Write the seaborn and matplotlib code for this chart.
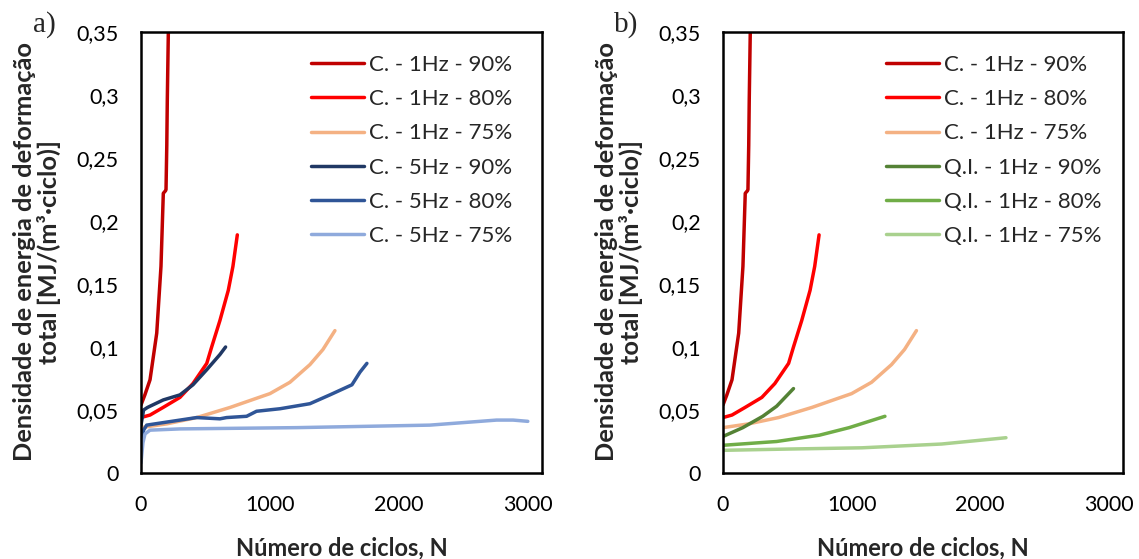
import matplotlib
matplotlib.use("Agg")
import matplotlib.pyplot as plt
import seaborn as sns
import pandas as pd

# Energy density per cycle vs. number of cycles
# C. = constant-rate tests, Q.I. = quasi-isothermal tests

c1_90_n = [0, 30, 70, 122, 155, 173, 190, 194, 200, 204, 212, 216]
c1_90_w = [0.054, 0.062, 0.074, 0.111, 0.164, 0.222, 0.224, 0.225, 0.26, 0.296, 0.35, 0.38]

c1_80_n = [0, 70, 171, 302, 403, 510, 548, 612, 677, 713, 747]
c1_80_w = [0.044, 0.046, 0.052, 0.060, 0.071, 0.087, 0.100, 0.121, 0.145, 0.164, 0.189]

c1_75_n = [0, 200, 432, 690, 1000, 1155, 1310, 1411, 1504]
c1_75_w = [0.036, 0.039, 0.044, 0.052, 0.063, 0.072, 0.086, 0.098, 0.113]

c5_90_n = [0, 20, 50, 70, 173, 302, 403, 510, 612, 656]
c5_90_w = [0.038, 0.050, 0.052, 0.053, 0.058, 0.062, 0.070, 0.082, 0.094, 0.100]

c5_80_n = [0, 20, 44, 173, 432, 612, 664, 819, 896, 1078, 1310, 1465, 1636, 1698, 1752]
c5_80_w = [0.020, 0.034, 0.038, 0.040, 0.044, 0.043, 0.044, 0.045, 0.049, 0.051, 0.055, 0.062, 0.070, 0.080, 0.087]

c5_75_n = [0, 15, 31, 70, 302, 1207, 2240, 2500, 2758, 2886, 3000]
c5_75_w = [0.008, 0.024, 0.031, 0.034, 0.035, 0.036, 0.038, 0.040, 0.042, 0.042, 0.041]

qi_90_n = [0, 154, 309, 417, 548]
qi_90_w = [0.029, 0.036, 0.045, 0.053, 0.067]

qi_80_n = [0, 417, 749, 981, 1259]
qi_80_w = [0.022, 0.025, 0.030, 0.036, 0.045]

qi_75_n = [0, 500, 1081, 1700, 2200]
qi_75_w = [0.018, 0.019, 0.020, 0.023, 0.028]

y_ticks = [0, 0.05, 0.10, 0.15, 0.20, 0.25, 0.30, 0.35]
y_tick_labels = ["0", "0,05", "0,1", "0,15", "0,2", "0,25", "0,3", "0,35"]
x_ticks = [0, 1000, 2000, 3000]
x_tick_labels = ["0", "1000", "2000", "3000"]

panel_a = [
    ("C. - 1Hz - 90%", c1_90_n, c1_90_w, "#C00000"),
    ("C. - 1Hz - 80%", c1_80_n, c1_80_w, "#FF0000"),
    ("C. - 1Hz - 75%", c1_75_n, c1_75_w, "#F4B183"),
    ("C. - 5Hz - 90%", c5_90_n, c5_90_w, "#203864"),
    ("C. - 5Hz - 80%", c5_80_n, c5_80_w, "#2F5597"),
    ("C. - 5Hz - 75%", c5_75_n, c5_75_w, "#8FAADC"),
]
panel_b = [
    ("C. - 1Hz - 90%", c1_90_n, c1_90_w, "#C00000"),
    ("C. - 1Hz - 80%", c1_80_n, c1_80_w, "#FF0000"),
    ("C. - 1Hz - 75%", c1_75_n, c1_75_w, "#F4B183"),
    ("Q.I. - 1Hz - 90%", qi_90_n, qi_90_w, "#548235"),
    ("Q.I. - 1Hz - 80%", qi_80_n, qi_80_w, "#70AD47"),
    ("Q.I. - 1Hz - 75%", qi_75_n, qi_75_w, "#A9D18E"),
]

sns.set_theme(style="white")
plt.rcParams["font.family"] = ["Lato", "DejaVu Sans"]

fig = plt.figure(figsize=(11.39, 5.59), dpi=100)
W, H = 1139, 559
ax_a = fig.add_axes([141 / W, (H - 473) / H, (542 - 141) / W, (473 - 32) / H])
ax_b = fig.add_axes([723 / W, (H - 473) / H, (1123 - 723) / W, (473 - 32) / H])

panels = [
    (ax_a, panel_a, "a)", 44 / W, 0.925),
    (ax_b, panel_b, "b)", 626 / W, 0.945),
]
for ax, series, tag, tag_x, leg_x in panels:
    for name, n, w, col in series:
        df = pd.DataFrame({"N": n, "W": w})
        sns.lineplot(data=df, x="N", y="W", ax=ax, color=col, lw=2.5,
                     label=name, sort=False, solid_capstyle="round")
    ax.set_xlim(0, 3110)
    ax.set_ylim(0, 0.35)
    ax.set_xticks(x_ticks)
    ax.set_xticklabels(x_tick_labels)
    ax.set_yticks(y_ticks)
    ax.set_yticklabels(y_tick_labels)
    ax.tick_params(direction="in", length=6, width=1.8, colors="black",
                   labelsize=15.5, pad=16)
    for sp in ax.spines.values():
        sp.set_color("black")
        sp.set_linewidth(1.8)
    ax.set_xlabel("Número de ciclos, N", fontsize=17, fontweight="bold", labelpad=15)
    ax.set_ylabel("Densidade de energia de deformação\ntotal [MJ/(m³·ciclo)]",
                  fontsize=18.3, fontweight="bold", labelpad=5, linespacing=1.05)
    ax.yaxis.set_label_coords(-0.2, 0.502)
    ax.legend(loc="upper right", frameon=False, fontsize=16, handlelength=2.4,
              handletextpad=0.2, labelspacing=0.64, borderaxespad=0, borderpad=0,
              bbox_to_anchor=(leg_x, 0.948))
    fig.text(tag_x, 0.957, tag, fontsize=21, family="Liberation Serif",
             ha="center", va="center")

fig.savefig("out.png", dpi=100)
